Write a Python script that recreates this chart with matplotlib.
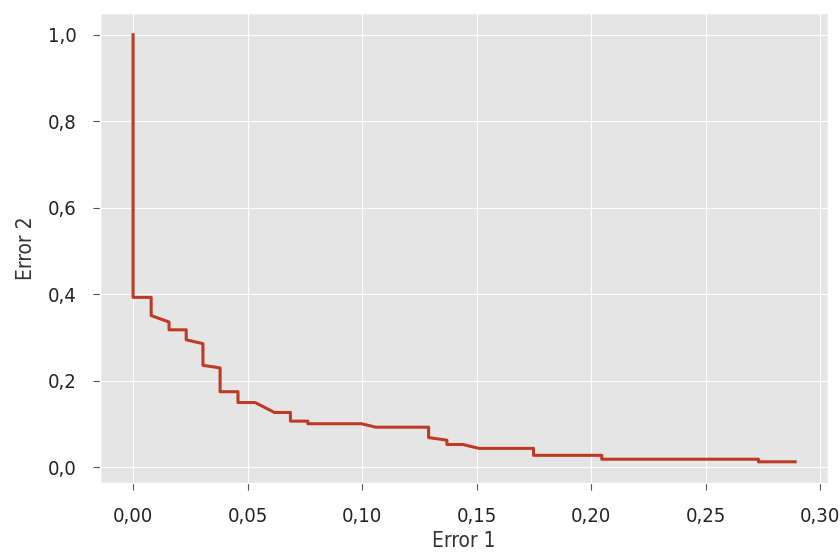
import matplotlib
matplotlib.use('Agg')
import matplotlib.pyplot as plt
from matplotlib.ticker import FuncFormatter

# точки кривой (Error 1, Error 2)
error1 = [0.0, 0.0, 0.0079, 0.0079, 0.0157, 0.0157, 0.0232, 0.0232, 0.0305, 0.0305,
          0.038, 0.038, 0.0458, 0.0458, 0.0533, 0.0617, 0.0687, 0.0687, 0.0763, 0.0763,
          0.0997, 0.106, 0.129, 0.129, 0.137, 0.137, 0.144, 0.151, 0.1748, 0.1748,
          0.2046, 0.2046, 0.273, 0.273, 0.289]
error2 = [1.0, 0.393, 0.393, 0.351, 0.336, 0.318, 0.318, 0.295, 0.286, 0.236,
          0.23, 0.175, 0.175, 0.15, 0.15, 0.127, 0.127, 0.107, 0.107, 0.101,
          0.101, 0.093, 0.093, 0.069, 0.063, 0.053, 0.053, 0.044, 0.044, 0.028,
          0.028, 0.019, 0.019, 0.013, 0.013]

plt.style.use('ggplot')
plt.rcParams['font.stretch'] = 'condensed'
fig = plt.figure(figsize=(8.4, 5.56), dpi=100)
ax = fig.add_axes([0.119, 0.131, 0.867, 0.845])

ax.plot(error1, error2, color='#BE3A24', linewidth=2.2)

comma = FuncFormatter(lambda v, pos: ('%.2f' % v).replace('.', ','))
comma_y = FuncFormatter(lambda v, pos: ('%.1f' % v).replace('.', ','))
ax.xaxis.set_major_formatter(comma)
ax.yaxis.set_major_formatter(comma_y)
ax.set_xticks([0.0, 0.05, 0.10, 0.15, 0.20, 0.25, 0.30])
ax.set_yticks([0.0, 0.2, 0.4, 0.6, 0.8, 1.0])
ax.tick_params(labelsize=14.5, colors='#555555', labelcolor='#222222', length=5)
ax.tick_params(axis='y', pad=12)
ax.tick_params(axis='x', pad=12)

ax.set_xlabel('Error 1', fontsize=15, color='#333333', labelpad=4)
ax.set_ylabel('Error 2', fontsize=15, color='#333333', labelpad=8)

fig.savefig('out.png', dpi=100)
